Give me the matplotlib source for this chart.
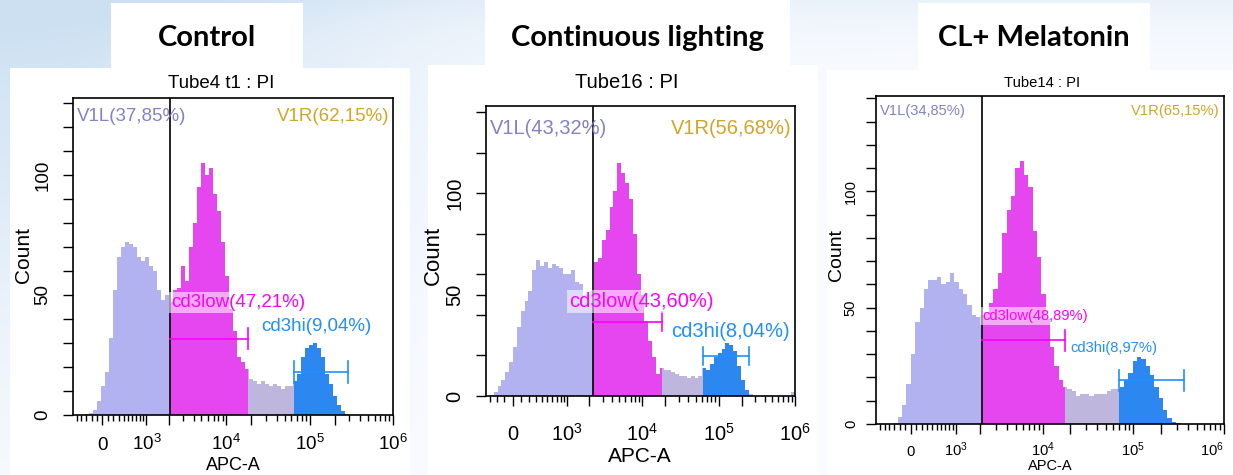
import matplotlib
matplotlib.use('Agg')
import matplotlib.pyplot as plt
import numpy as np
from matplotlib.patches import Rectangle
from matplotlib.ticker import FixedLocator, FixedFormatter

plt.rcParams['font.family'] = ['Liberation Sans', 'DejaVu Sans']
plt.rcParams['mathtext.default'] = 'regular'

# ---- data ----
titles = ['Control', 'Continuous lighting', 'CL+ Melatonin']
tubes = ['Tube4 t1 : PI', 'Tube16 : PI', 'Tube14 : PI']
v1l_labels = ['V1L(37,85%)', 'V1L(43,32%)', 'V1L(34,85%)']
v1r_labels = ['V1R(62,15%)', 'V1R(56,68%)', 'V1R(65,15%)']
cd3low_labels = ['cd3low(47,21%)', 'cd3low(43,60%)', 'cd3low(48,89%)']
cd3hi_labels = ['cd3hi(9,04%)', 'cd3hi(8,04%)', 'cd3hi(8,97%)']

# gates on APC-A
v1_cut = [2070, 2270, 2070]
cd3low_end = [1.8e4, 1.8e4, 1.75e4]
cd3hi_lo = [6.5e4, 6.2e4, 7.0e4]
cd3hi_hi = [2.9e5, 2.5e5, 3.6e5]
cd3low_y = [31.8, 36.7, 36.0]
cd3hi_y = [18.0, 19.7, 18.9]

# histogram counts, 80 bins spread evenly over each display axis
counts_control = [0, 0, 0, 0.5, 1, 2, 6, 12, 18, 32,
                  52, 66, 70, 72, 71, 70, 66, 64, 66, 62,
                  60, 52, 48, 50, 47, 52, 53, 62, 56, 70,
                  80, 95, 105, 100, 103, 92, 85, 72, 58, 44,
                  35, 24, 22, 19, 15, 14, 13, 14, 13, 12,
                  13, 12, 11, 12, 12, 14, 17, 24, 28, 29,
                  30, 28, 24, 17, 13, 8, 4, 1.5, 0.5, 0,
                  0, 0, 0, 0, 0, 0, 0, 0, 0, 0]
counts_cl = [0, 0.5, 2, 5, 8, 12, 17, 24, 34, 42,
             47, 52, 62, 67, 64, 66, 63, 65, 64, 63,
             60, 60, 62, 56, 55, 50, 50, 52, 66, 68,
             77, 82, 93, 101, 115, 110, 105, 97, 80, 60,
             50, 37, 27, 19, 11, 14, 13, 13, 12, 11,
             10, 10, 9, 10, 9, 10, 14, 13, 16, 19,
             21, 23, 26, 25, 22, 15, 8, 3, 1, 0,
             0, 0, 0, 0, 0, 0, 0, 0, 0, 2]
counts_mel = [0, 0, 0, 0, 0.3, 3, 8, 17, 30, 44,
              50, 58, 62, 62, 63, 60, 61, 65, 61, 58,
              56, 51, 47, 46, 47, 48, 52, 58, 65, 82,
              92, 98, 110, 113, 107, 102, 83, 72, 56, 45,
              33, 25, 19, 16, 15, 14, 12, 13, 13, 12,
              13, 13, 13, 14, 15, 15, 16, 19, 22, 27,
              29, 28, 25, 21, 16, 11, 6, 2.5, 1, 0.5,
              0, 0, 0, 0, 0, 0, 0, 0, 0, 0]
all_counts = [counts_control, counts_cl, counts_mel]

# ---- layout ----
W, H = 1233, 475
panels = [
    dict(rect=[73, 98, 393, 415], a=650, xlo=-590, ymax=132, ystep=10,
         fs=13.5, count_fs=15, apc_fs=13, xpad=18.5, ypad=8.5,
         tube_x=221, title_x=207, count_x=23, apc=(233, 466),
         low_txt=2100, low_ty=47.0, hi_txt=2.6e4, hi_ty=36.7, v1y=0.943,
         white=(10, 68, 410), tbox=(111, 3, 303, 68)),
    dict(rect=[486, 106, 795, 396], a=400, xlo=-358, ymax=143, ystep=20,
         fs=14.5, count_fs=16, apc_fs=15, xpad=25, ypad=8.5,
         tube_x=627, title_x=637, count_x=433, apc=(640, 457),
         low_txt=1050, low_ty=46.5, hi_txt=2.4e4, hi_ty=31.7, v1y=0.924,
         white=(428, 65, 818), tbox=(485, 0, 790, 65)),
    dict(rect=[876, 96, 1224, 424], a=700, xlo=-700, ymax=141, ystep=10,
         fs=10.6, count_fs=14, apc_fs=10.5, xpad=16, ypad=6,
         tube_x=1042, title_x=1034, count_x=837, apc=(1050, 466),
         low_txt=2100, low_ty=46.4, hi_txt=2.0e4, hi_ty=32.5, v1y=0.954,
         white=(827, 70, 1233), tbox=(918, 3, 1150, 70)),
]

LAV = '#B2B2F0'
MAG = '#E646F0'
GRAY = '#BEB6DC'
BLUE = '#2C88F0'

fig = plt.figure(figsize=(W / 100, H / 100), dpi=100)

# soft blue background
yy, xx = np.mgrid[0:H, 0:W]
t = 0.85 * np.exp(-((xx / 380.0) ** 2 + (yy / 320.0) ** 2)) + 0.35 * np.exp(-yy / 35.0)
t = np.clip(t, 0, 1)[..., None]
blue_bg = np.array([0.80, 0.88, 0.95])
grad = (1 - t) * np.array([0.98, 0.985, 1.0]) + t * blue_bg
bg = fig.add_axes([0, 0, 1, 1], zorder=-10)
bg.imshow(grad, extent=[0, 1, 0, 1], aspect='auto')
bg.axis('off')


def frect(x0, y0, x1, y1):
    fig.add_artist(Rectangle((x0 / W, 1 - y1 / H), (x1 - x0) / W, (y1 - y0) / H,
                             transform=fig.transFigure, facecolor='white',
                             edgecolor='none', zorder=-5))


def fill_region(ax, edges, counts, lo, hi, color):
    sel = np.where((edges[1:] > lo) & (edges[:-1] < hi))[0]
    if len(sel) == 0:
        return
    e = np.clip(edges[sel[0]:sel[-1] + 2], lo, hi)
    ax.stairs(np.asarray(counts)[sel], e, fill=True, color=color, lw=0)


for k, p in enumerate(panels):
    x0, y0, x1, y1 = p['rect']
    ax = fig.add_axes([x0 / W, 1 - y1 / H, (x1 - x0) / W, (y1 - y0) / H])
    a = p['a']
    fwd = lambda x, a=a: np.arcsinh(np.asarray(x, dtype=float) / a)
    inv = lambda y, a=a: a * np.sinh(np.asarray(y, dtype=float))
    ax.set_xscale('function', functions=(fwd, inv))
    xhi = 1e6
    ax.set_xlim(p['xlo'], xhi)
    ax.set_ylim(0, p['ymax'])

    wx0, wy0, wx1 = p['white']
    frect(wx0, wy0, wx1, H)
    frect(*p['tbox'])

    counts = all_counts[k]
    edges = inv(np.linspace(fwd(p['xlo']), fwd(xhi), len(counts) + 1))
    fill_region(ax, edges, counts, p['xlo'], v1_cut[k], LAV)
    fill_region(ax, edges, counts, v1_cut[k], cd3low_end[k], MAG)
    fill_region(ax, edges, counts, cd3low_end[k], cd3hi_lo[k], GRAY)
    fill_region(ax, edges, counts, cd3hi_lo[k], cd3hi_hi[k], BLUE)
    fill_region(ax, edges, counts, cd3hi_hi[k], xhi, GRAY)

    ax.axvline(v1_cut[k], color='black', lw=1.2)

    # gate bars
    cap = 4.5
    ax.plot([v1_cut[k], cd3low_end[k]], [cd3low_y[k]] * 2, color='#FF00FF', lw=1.2)
    ax.plot([cd3low_end[k]] * 2, [cd3low_y[k] - cap, cd3low_y[k] + cap], color='#FF00FF', lw=1.2)
    ax.plot([cd3hi_lo[k], cd3hi_hi[k]], [cd3hi_y[k]] * 2, color='#1E90FF', lw=1.2)
    for xv in (cd3hi_lo[k], cd3hi_hi[k]):
        ax.plot([xv, xv], [cd3hi_y[k] - cap, cd3hi_y[k] + cap], color='#1E90FF', lw=1.2)

    fs = p['fs']
    ax.text(p['low_txt'], p['low_ty'], cd3low_labels[k], color='#FF00FF', fontsize=fs,
            ha='left', va='center',
            bbox=dict(facecolor='white', alpha=0.55, edgecolor='none', pad=1.5))
    ax.text(p['hi_txt'], p['hi_ty'], cd3hi_labels[k], color='#1E90FF', fontsize=fs,
            ha='left', va='center')
    ax.text(0.012, p['v1y'], v1l_labels[k], color='#8282C8', fontsize=fs,
            ha='left', va='center', transform=ax.transAxes)
    ax.text(0.988, p['v1y'], v1r_labels[k], color='#D2A528', fontsize=fs,
            ha='right', va='center', transform=ax.transAxes)

    # ticks
    majors = [0, 1e3, 2e3, 1e4, 2e4, 1e5, 2e5, 1e6]
    mlabels = ['0', '$10^3$', '', '$10^4$', '', '$10^5$', '', '$10^6$']
    ax.xaxis.set_major_locator(FixedLocator(majors))
    ax.xaxis.set_major_formatter(FixedFormatter(mlabels))
    minors = [-100 * i for i in range(1, 10) if -100 * i > p['xlo']]
    minors += [100 * i for i in range(1, 10)]
    for d in (1e3, 1e4, 1e5):
        minors += [d * m for m in range(3, 10)]
    ax.xaxis.set_minor_locator(FixedLocator(minors))
    ax.tick_params(axis='x', which='major', length=7, width=1, pad=p['xpad'], labelsize=fs)
    ax.tick_params(axis='x', which='minor', length=4, width=1)
    xlabs = ax.get_xticklabels()
    for lab in xlabs:
        lab.set_va('baseline')
    if k == 2:
        # last label sits on the figure edge
        xlabs[-1].set_ha('right')
    ax.yaxis.set_major_locator(FixedLocator([0, 50, 100]))
    ax.yaxis.set_minor_locator(FixedLocator(list(range(0, int(p['ymax']) + 1, p['ystep']))))
    ax.tick_params(axis='y', which='both', length=7, width=1, pad=p['ypad'], labelsize=fs)
    for lab in ax.get_yticklabels():
        lab.set_rotation(90)
        lab.set_va('center')
    for s in ax.spines.values():
        s.set_linewidth(1.2)
        s.set_color('black')

    fig.text(p['tube_x'] / W, 1 - 83 / H, tubes[k], fontsize=fs, ha='center', va='center')
    fig.text(p['title_x'] / W, 1 - 38 / H, titles[k], fontsize=21, fontweight='bold',
             family='Lato', ha='center', va='center')
    fig.text(p['count_x'] / W, 1 - 255 / H, 'Count', fontsize=p['count_fs'], rotation=90,
             ha='center', va='center')
    fig.text(p['apc'][0] / W, 1 - p['apc'][1] / H, 'APC-A', fontsize=p['apc_fs'],
             ha='center', va='center')

fig.savefig('out.png', dpi=100)
